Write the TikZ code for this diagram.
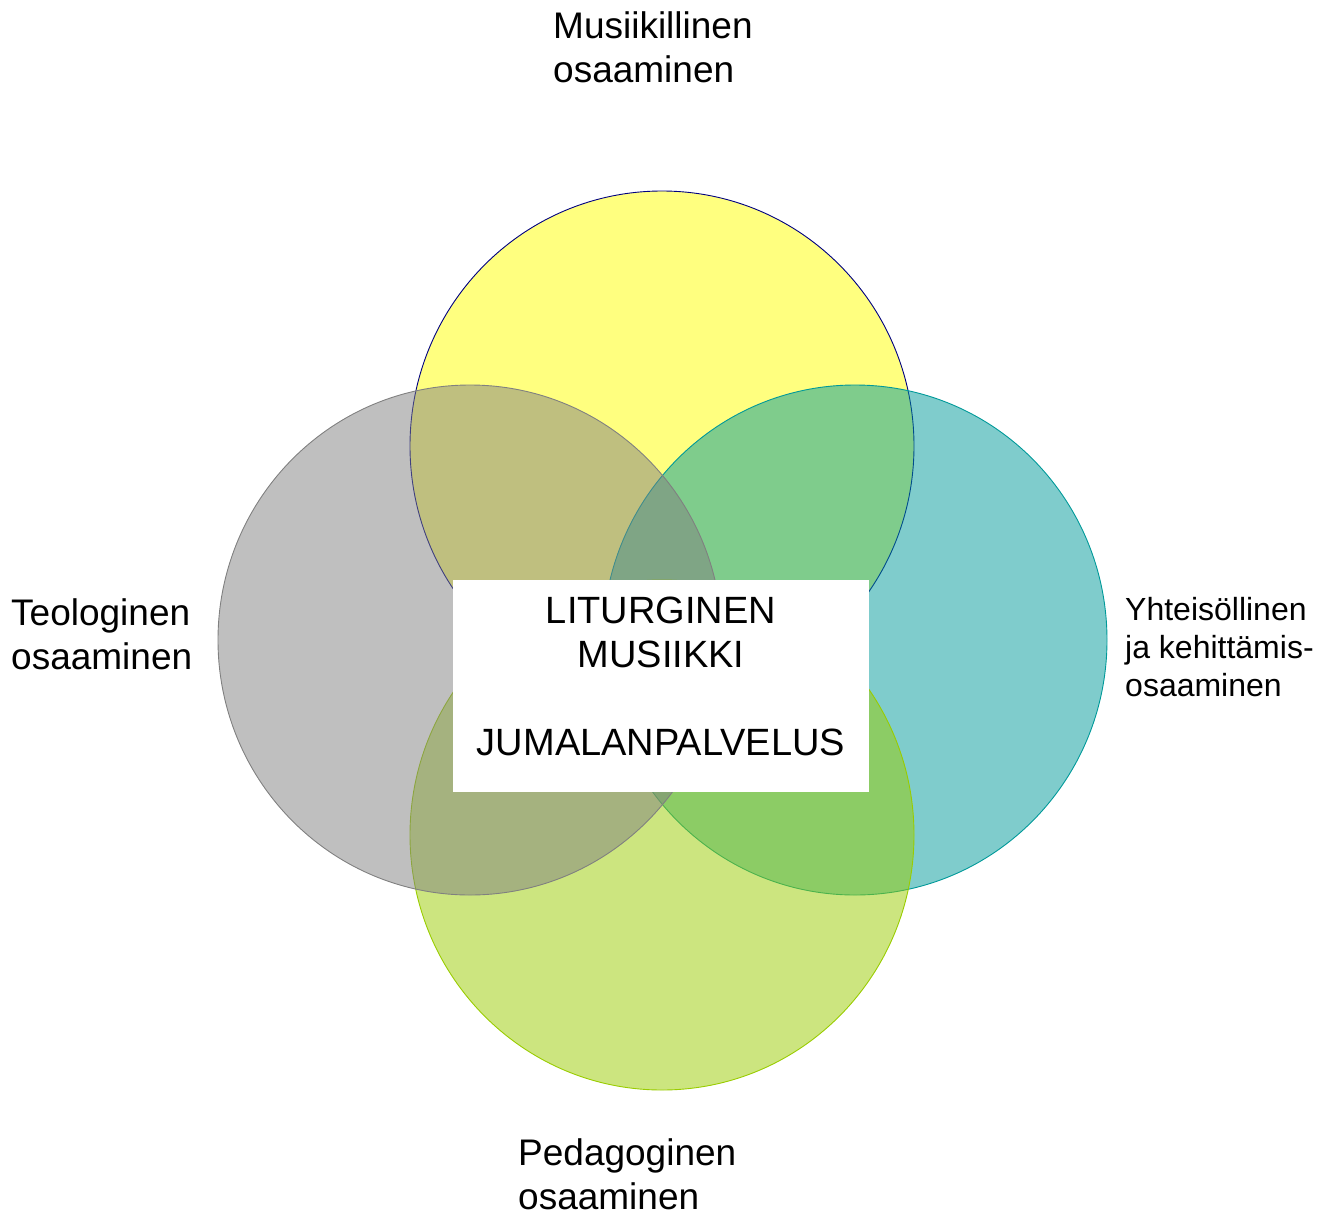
\documentclass[tikz,border=0pt]{standalone}
\usepackage{fontspec}
\setmainfont{Liberation Sans}
\usetikzlibrary{positioning}
\definecolor{musicfill}{RGB}{255,255,0}
\definecolor{musicline}{RGB}{0,0,128}
\definecolor{theofill}{RGB}{128,128,128}
\definecolor{commfill}{RGB}{0,153,153}
\definecolor{pedafill}{RGB}{153,204,0}

\begin{document}
\begin{tikzpicture}[x=1pt, y=-1pt,
    ring/.style={line width=0.9pt, fill opacity=0.5},
    label/.style={anchor=north west, inner sep=0pt, align=left, font=\fontsize{37}{44}\selectfont},
    small label/.style={label, font=\fontsize{32}{38}\selectfont},
    panel/.style={fill=white, inner sep=0pt, minimum width=416pt, minimum height=212pt}]
    \useasboundingbox (0,0) rectangle (1331,1213);
    \coordinate (c_music) at (662,446);
    \coordinate (c_theo) at (470,640);
    \coordinate (c_comm) at (855,640);
    \coordinate (c_peda) at (662,835);

    \draw[ring, draw=musicline, fill=musicfill] (c_music) ellipse [x radius=252pt, y radius=255pt];
    \draw[ring, draw=commfill, fill=commfill] (c_comm) ellipse [x radius=252pt, y radius=255pt];
    \draw[ring, draw=pedafill, fill=pedafill] (c_peda) ellipse [x radius=252pt, y radius=255pt];
    \draw[ring, draw=theofill, fill=theofill] (c_theo) ellipse [x radius=252pt, y radius=255pt];

    \node[panel] (core) at (661,686) {};
    \node[inner sep=0pt, align=center, font=\fontsize{38}{44}\selectfont] (core_text) at (661,676)
        {LITURGINEN\\MUSIIKKI\\[44pt]JUMALANPALVELUS};

    \node[label] (music) at (553,11) {Musiikillinen\\osaaminen};
    \node[label] (theo) at (11,598) {Teologinen\\osaaminen};
    \node[small label] (comm) at (1125,597) {Yhteisöllinen\\ja kehittämis-\\osaaminen};
    \node[label] (peda) at (518,1138) {Pedagoginen\\osaaminen};
\end{tikzpicture}
\end{document}
